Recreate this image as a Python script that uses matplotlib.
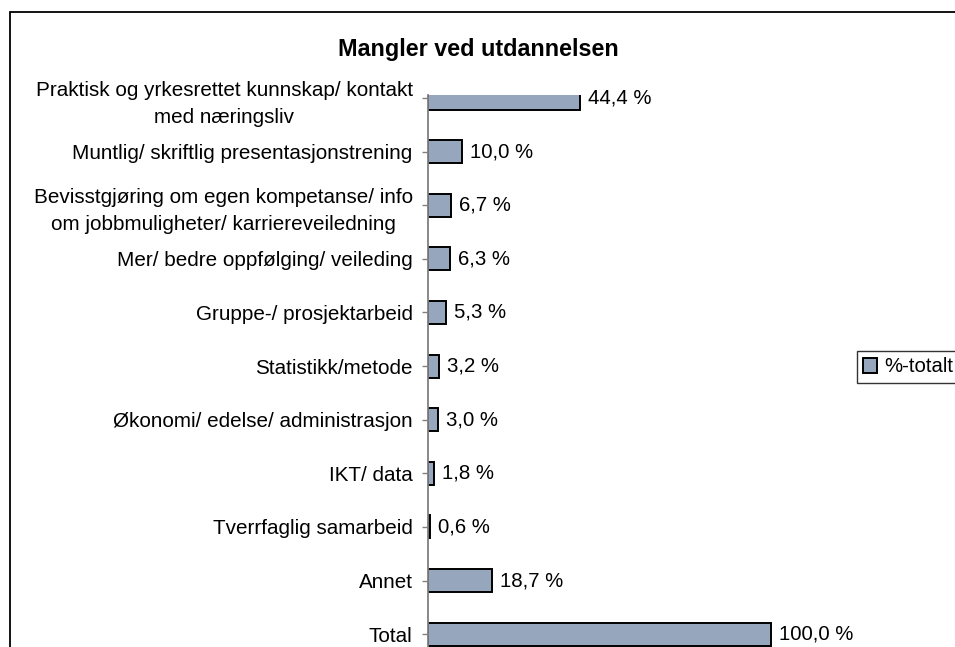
import matplotlib.pyplot as plt
from matplotlib.patches import Rectangle
from matplotlib.transforms import ScaledTranslation

plt.rcParams['font.family'] = ['Liberation Sans', 'DejaVu Sans']

# Data
categories = [
    "Praktisk og yrkesrettet kunnskap/ kontakt\nmed næringsliv",
    "Muntlig/ skriftlig presentasjonstrening",
    "Bevisstgjøring om egen kompetanse/ info\nom jobbmuligheter/ karriereveiledning",
    "Mer/ bedre oppfølging/ veileding",
    "Gruppe-/ prosjektarbeid",
    "Statistikk/metode",
    "Økonomi/ edelse/ administrasjon",
    "IKT/ data",
    "Tverrfaglig samarbeid",
    "Annet",
    "Total",
]
values = [44.4, 10.0, 6.7, 6.3, 5.3, 3.2, 3.0, 1.8, 0.6, 18.7, 100.0]
series_name = "%-totalt"
title = "Mangler ved utdannelsen"

W, H = 955, 647
fs = 14.7
fig = plt.figure(figsize=(W / 100, H / 100), dpi=100)

# outer chart border (cut off at right and bottom in the reference)
fig.patches.append(Rectangle((10 / W, -0.1), 1.2, 1 - 12 / H + 0.1,
                             transform=fig.transFigure, fill=False,
                             edgecolor='black', linewidth=1.3))

ax = fig.add_axes([428 / W, 0, (850 - 428) / W, 1 - 95 / H])
pos = list(range(len(categories)))
ax.barh(pos, values, height=0.43, color='#96A7BD', edgecolor='black',
        linewidth=1.4, label=series_name)
ax.set_ylim(10.24, -0.056)
ax.set_xlim(0, 123)

for p, v in zip(pos, values):
    ax.text(v + 2.3, p, f"{v:.1f} %".replace('.', ','), va='center',
            ha='left', fontsize=fs, clip_on=False)

ax.set_yticks(pos)
ax.set_yticklabels(categories, fontsize=14.9)
lift = ScaledTranslation(0, 4 / 100, fig.dpi_scale_trans)
for lbl in ax.get_yticklabels():
    lbl.set_multialignment('center')
    lbl.set_linespacing(1.55)
    if "\n" in lbl.get_text():
        lbl.set_transform(lbl.get_transform() + lift)
ax.tick_params(axis='y', length=4.5, width=1, color='#808080', pad=6.5)
ax.set_xticks([])
for s in ['top', 'right', 'bottom']:
    ax.spines[s].set_visible(False)
ax.spines['left'].set_color('#808080')
ax.spines['left'].set_linewidth(1.3)
ax.patch.set_visible(False)

fig.text(478 / W, 1 - 56 / H, title, ha='center', va='baseline',
         fontsize=16.8, fontweight='bold')

leg = fig.legend(loc='center left', bbox_to_anchor=(857 / W, 1 - 367 / H),
                 fontsize=fs, frameon=True, fancybox=False,
                 handlelength=0.7, handleheight=0.7, handletextpad=0.35,
                 borderpad=0.3, borderaxespad=0)
leg.get_frame().set_edgecolor('black')
leg.get_frame().set_linewidth(1.0)

fig.savefig('out.png', dpi=100)
